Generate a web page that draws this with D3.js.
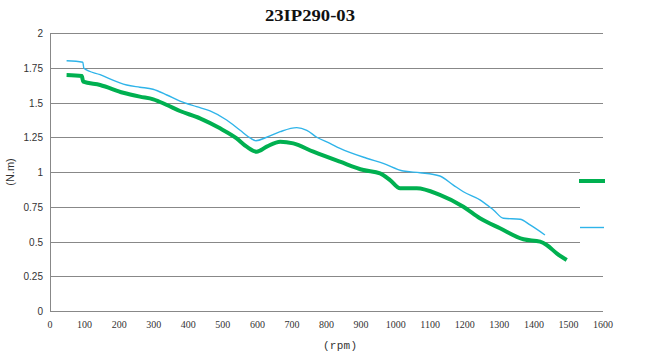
<!DOCTYPE html>
<html>
<head>
<meta charset="utf-8">
<script src="https://cdn.jsdelivr.net/npm/d3@7"></script>
<style>
  body { margin: 0; background: #fff; }
</style>
</head>
<body>
<div id="chart"></div>
<script>
// thick green curve
const greenRpm = [48, 92, 96, 145, 212, 260, 299, 338, 376, 434, 492, 540, 569, 598, 627, 666, 704, 762, 839, 907, 955, 984, 1013, 1061, 1128, 1196, 1244, 1302, 1370, 1418, 1437, 1466, 1495];
const greenTorque = [1.698, 1.69, 1.65, 1.626, 1.57, 1.542, 1.523, 1.482, 1.439, 1.386, 1.314, 1.242, 1.182, 1.146, 1.182, 1.218, 1.206, 1.146, 1.074, 1.014, 0.99, 0.942, 0.883, 0.883, 0.835, 0.75, 0.667, 0.595, 0.516, 0.499, 0.475, 0.415, 0.367];

// thin blue curve
const blueRpm = [48, 95, 98, 145, 222, 260, 298, 338, 376, 424, 463, 511, 550, 579, 596, 627, 666, 714, 743, 772, 810, 839, 916, 964, 1022, 1071, 1128, 1167, 1196, 1244, 1283, 1312, 1360, 1389, 1432];
const blueTorque = [1.80, 1.79, 1.746, 1.70, 1.626, 1.61, 1.595, 1.554, 1.51, 1.47, 1.439, 1.374, 1.30, 1.245, 1.225, 1.25, 1.29, 1.319, 1.30, 1.25, 1.206, 1.17, 1.099, 1.062, 1.007, 0.995, 0.971, 0.906, 0.858, 0.80, 0.727, 0.667, 0.66, 0.619, 0.547];

const xTicks = d3.range(0, 1601, 100);
const yTicks = [0, 0.25, 0.5, 0.75, 1, 1.25, 1.5, 1.75, 2];

const width = 648, height = 362;
const margin = { top: 33, right: 45, bottom: 51, left: 50 };

const svg = d3.select("#chart").append("svg")
    .attr("width", width)
    .attr("height", height);

const x = d3.scaleLinear().domain([0, 1600]).range([margin.left, width - margin.right]);
const y = d3.scaleLinear().domain([0, 2]).range([height - margin.bottom, margin.top]);

// title
svg.append("text")
    .attr("x", 310)
    .attr("y", 21)
    .attr("text-anchor", "middle")
    .attr("textLength", 90)
    .attr("lengthAdjust", "spacingAndGlyphs")
    .style("font-family", "'Liberation Serif', serif")
    .style("font-weight", "bold")
    .style("font-size", "17px")
    .style("fill", "#111")
    .text("23IP290-03");

// gridlines
svg.append("g").selectAll("line")
    .data(yTicks)
    .join("line")
    .attr("x1", x(0))
    .attr("x2", x(1600))
    .attr("y1", d => Math.round(y(d)) + 0.5)
    .attr("y2", d => Math.round(y(d)) + 0.5)
    .attr("stroke", "#888")
    .attr("stroke-width", 1);

// left axis line
svg.append("line")
    .attr("x1", x(0) + 0.5).attr("x2", x(0) + 0.5)
    .attr("y1", y(2)).attr("y2", y(0))
    .attr("stroke", "#888");

// y tick labels
svg.append("g").selectAll("text")
    .data(yTicks)
    .join("text")
    .attr("x", x(0) - 7)
    .attr("y", d => y(d) + 4)
    .attr("text-anchor", "end")
    .style("font-family", "'Liberation Sans', Arial, sans-serif")
    .style("font-size", "10px")
    .style("fill", "#333")
    .text(d => d);

// x tick labels
svg.append("g").selectAll("text")
    .data(xTicks)
    .join("text")
    .attr("x", d => x(d))
    .attr("y", y(0) + 17)
    .attr("text-anchor", "middle")
    .style("font-family", "'Liberation Serif', serif")
    .style("font-size", "10px")
    .style("fill", "#333")
    .text(d => d);

// axis titles
svg.append("text")
    .attr("transform", `translate(14, ${(y(0) + y(2)) / 2}) rotate(-90)`)
    .attr("text-anchor", "middle")
    .style("font-family", "'Liberation Sans', Arial, sans-serif")
    .style("font-size", "11px")
    .style("fill", "#333")
    .text("(N.m)");

svg.append("text")
    .attr("x", 340)
    .attr("y", 349)
    .attr("text-anchor", "middle")
    .attr("textLength", 34)
    .attr("lengthAdjust", "spacing")
    .style("font-family", "'Liberation Mono', monospace")
    .style("font-size", "11px")
    .style("fill", "#333")
    .text("(rpm)");

const line = d3.line()
    .x(d => x(d[0]))
    .y(d => y(d[1]))
    .curve(d3.curveMonotoneX);

svg.append("path")
    .datum(blueRpm.map((r, i) => [r, blueTorque[i]]))
    .attr("d", line)
    .attr("fill", "none")
    .attr("stroke", "#2fb4e9")
    .attr("stroke-width", 1.4);

svg.append("path")
    .datum(greenRpm.map((r, i) => [r, greenTorque[i]]))
    .attr("d", line)
    .attr("fill", "none")
    .attr("stroke", "#00b050")
    .attr("stroke-width", 4)
    .attr("stroke-linejoin", "round");

// legend (no labels), white box over the gridlines
const legend = svg.append("g");
legend.append("rect")
    .attr("x", 580).attr("y", 150)
    .attr("width", 60).attr("height", 105)
    .attr("fill", "#fff");
legend.append("line")
    .attr("x1", 579).attr("x2", 605)
    .attr("y1", 181).attr("y2", 181)
    .attr("stroke", "#00b050").attr("stroke-width", 4);
legend.append("line")
    .attr("x1", 580).attr("x2", 604)
    .attr("y1", 227.5).attr("y2", 227.5)
    .attr("stroke", "#2fb4e9").attr("stroke-width", 1.4);
</script>
</body>
</html>
